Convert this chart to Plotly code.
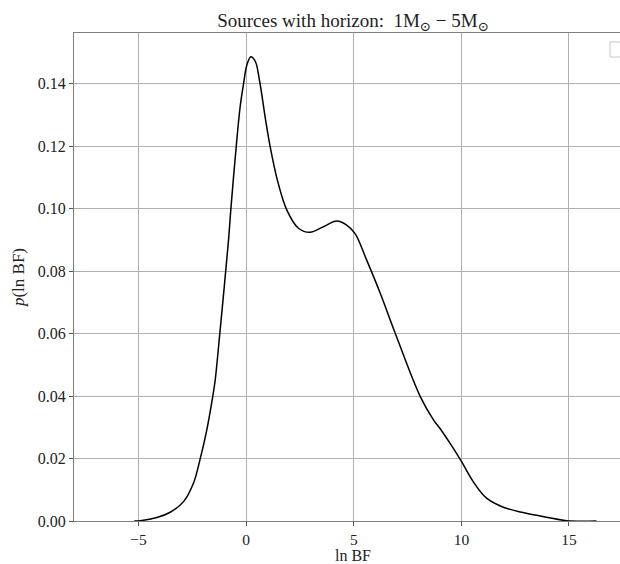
import plotly.graph_objects as go

# Kernel density estimate of ln BF (sampled along the curve)
ln_bf = [-5.2, -4.92, -4.15, -3.53, -2.91, -2.45, -2.14, -1.86, -1.55, -1.44, -1.21,
         -0.82, -0.71, -0.46, -0.28, -0.12, 0.03, 0.22, 0.43, 0.62, 0.9, 1.11, 1.45,
         1.89, 2.43, 2.97, 3.59, 4.21, 4.67, 5.06, 5.6, 6.23, 6.93, 8.09, 8.71, 9.0,
         9.47, 10.01, 10.55, 11.17, 11.95, 12.87, 13.96, 14.89, 16.28]
density = [0.0, 0.0001, 0.0011, 0.0028, 0.0062, 0.0121, 0.0198, 0.0281, 0.040, 0.0451, 0.0611,
           0.0899, 0.100, 0.120, 0.1326, 0.140, 0.1459, 0.1486, 0.147, 0.141, 0.1285, 0.120, 0.1091,
           0.0995, 0.0937, 0.0924, 0.0942, 0.096, 0.0947, 0.092, 0.0835, 0.0729, 0.060, 0.0398, 0.0323, 0.0297,
           0.0249, 0.019, 0.0126, 0.0073, 0.0044, 0.0027, 0.0012, 0.0001, 0.0]

x_ticks = [-5, 0, 5, 10, 15]
y_ticks = [0.00, 0.02, 0.04, 0.06, 0.08, 0.10, 0.12, 0.14]

serif = "Liberation Serif, DejaVu Serif, serif"
W, H = 620, 564
L, T, B = 74, 33, 43
plot_w = W - L
plot_h = H - T - B

fig = go.Figure()
fig.add_trace(go.Scatter(
    x=ln_bf, y=density, mode="lines",
    line=dict(color="black", width=1.5, shape="spline", smoothing=1.0),
    showlegend=False, hoverinfo="skip",
))

axis_common = dict(
    showgrid=True, gridcolor="#b0b0b0", gridwidth=1,
    showline=True, linecolor="#808080", linewidth=1,
    ticks="outside", ticklen=4, tickcolor="#555555", tickwidth=1,
    zeroline=False, automargin=False,
)

fig.update_xaxes(
    range=[-8.0, 17.37], tickvals=x_ticks,
    ticktext=[("\u2212" + str(-v)) if v < 0 else str(v) for v in x_ticks],
    mirror=True,
    tickfont=dict(family=serif, size=15.5, color="#222222"),
    **axis_common,
)
fig.update_yaxes(
    range=[0, 0.1562], tickvals=y_ticks,
    ticktext=[f"{v:.2f}" for v in y_ticks],
    tickfont=dict(family=serif, size=16, color="#222222"),
    title=dict(text="<i>p</i>(ln BF)", font=dict(family=serif, size=17, color="#222222"), standoff=8),
    **axis_common,
)

# x-axis label placed just under the tick labels
fig.add_annotation(
    text="ln BF", xref="paper", yref="paper",
    x=(353 - L) / plot_w, y=-(555 - (H - B)) / plot_h,
    xanchor="center", yanchor="middle", showarrow=False,
    font=dict(family=serif, size=16, color="#222222"),
)

# empty legend frame in the upper-right corner
fig.add_shape(
    type="rect", xref="paper", yref="paper",
    x0=(610 - L) / plot_w, x1=(626 - L) / plot_w,
    y0=(H - B - 57) / plot_h, y1=(H - B - 42) / plot_h,
    line=dict(color="#c8c8c8", width=1), fillcolor="white",
)

fig.update_layout(
    width=W, height=H,
    margin=dict(l=L, r=0, t=T, b=B),
    paper_bgcolor="white", plot_bgcolor="white",
    title=dict(
        text="Sources with horizon:  1M<sub>\u2299</sub> \u2212 5M<sub>\u2299</sub>",
        x=353 / W, xref="container", xanchor="center",
        y=1 - 20 / H, yref="container", yanchor="middle",
        font=dict(family=serif, size=19, color="#222222"),
    ),
)

fig.write_html("out.html")
